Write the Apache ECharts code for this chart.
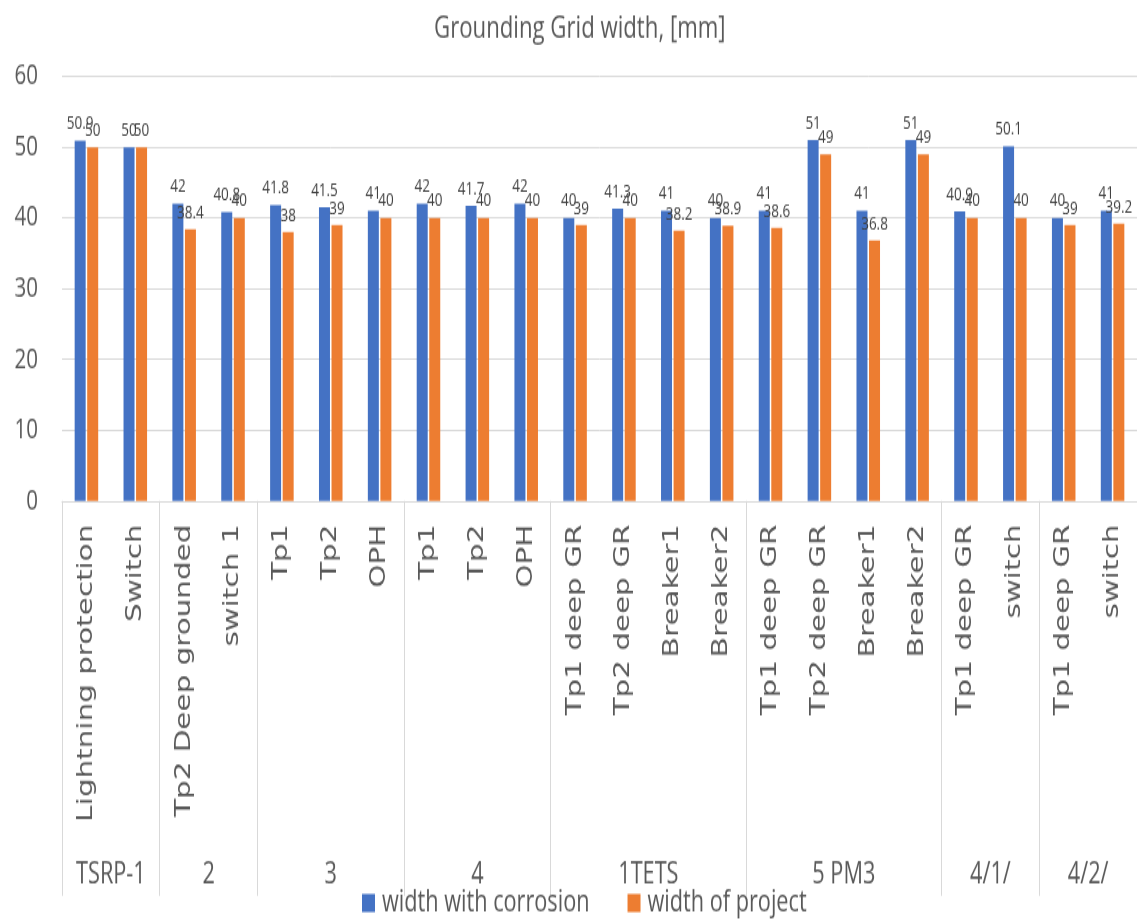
<!DOCTYPE html>
<html>
<head>
<meta charset="utf-8">
<script src="https://cdn.jsdelivr.net/npm/echarts@6/dist/echarts.min.js"></script>
<style>
  html, body { margin: 0; padding: 0; background: #ffffff; overflow: hidden; }
  #chart { position: absolute; left: 0; top: 0; width: 1137px; transform-origin: 0 0; }
</style>
</head>
<body>
<div id="chart"></div>
<script>
// Grounding grid widths per measurement point, grouped by object.
const categories = [
  'Lightning protection', 'Switch',
  'Tp2 Deep grounded', 'switch 1',
  'Tp1', 'Tp2', 'OPH',
  'Tp1', 'Tp2', 'OPH',
  'Tp1 deep GR', 'Tp2 deep GR', 'Breaker1', 'Breaker2',
  'Tp1 deep GR', 'Tp2 deep GR', 'Breaker1', 'Breaker2',
  'Tp1 deep GR', 'switch',
  'Tp1 deep GR', 'switch'
];
const groupNames = ['TSRP-1', '2', '3', '4', '1TETS', '5 PM3', '4/1/', '4/2/'];
const groupSizes = [2, 2, 3, 3, 4, 4, 2, 2];

const widthWithCorrosion = [50.9, 50, 42, 40.8, 41.8, 41.5, 41, 42, 41.7, 42, 40, 41.3, 41, 40, 41, 51, 41, 51, 40.9, 50.1, 40, 41];
const widthOfProject     = [50, 50, 38.4, 40, 38, 39, 40, 40, 40, 40, 39, 40, 38.2, 38.9, 38.6, 49, 36.8, 49, 40, 40, 39, 39.2];

const yTicks = [0, 10, 20, 30, 40, 50, 60];

// The drawing is laid out on a squat canvas and stretched vertically.
const STRETCH = 1.4;
const W = 1137, H = 920 / STRETCH;
const el = document.getElementById('chart');
el.style.height = H + 'px';
el.style.transform = 'scaleY(' + STRETCH + ')';

// Group boundaries and centres on a 0..N scale along the category axis.
const bounds = [0];
groupSizes.forEach(s => bounds.push(bounds[bounds.length - 1] + s));
const centres = groupSizes.map((s, i) => bounds[i] + s / 2);

const gridTop = 54.6, gridBottomY = 357.9, groupLineY = 640;
const sans = '"Open Sans", sans-serif';
const grey = '#595959', lineGrey = '#d9d9d9';

const chart = echarts.init(el, null, { renderer: 'canvas' });
chart.setOption({
  animation: false,
  backgroundColor: '#ffffff',
  title: {
    text: 'Grounding Grid width, [mm]',
    left: 429, top: 5,
    textStyle: { fontFamily: sans, fontSize: 22.2, fontWeight: 'normal', color: grey }
  },
  legend: {
    left: 357, top: 629,
    icon: 'rect', itemWidth: 13, itemHeight: 13, itemGap: 38,
    textStyle: { fontFamily: sans, fontSize: 21.7, color: grey, padding: [0, 0, 0, 2] },
    data: ['width with corrosion', 'width of project']
  },
  grid: {
    left: 62, right: 0, top: gridTop, bottom: H - gridBottomY,
    containLabel: false, outerBoundsMode: 'none'
  },
  xAxis: [
    {
      type: 'category',
      data: categories,
      boundaryGap: true,
      axisLine: { show: true, lineStyle: { color: lineGrey, width: 1 } },
      axisTick: { show: false },
      axisLabel: {
        interval: 0, rotate: 90, margin: 17,
        fontFamily: '"DejaVu Sans", sans-serif', fontSize: 21, color: grey
      }
    },
    {
      // second level: object groups with separators running up to the axis
      type: 'value',
      gridIndex: 0,
      position: 'bottom',
      offset: groupLineY - gridBottomY,
      min: 0, max: categories.length,
      axisLine: { show: false },
      splitLine: { show: false },
      axisTick: {
        show: true, inside: true, length: groupLineY - gridBottomY,
        customValues: bounds,
        lineStyle: { color: lineGrey, width: 1 }
      },
      axisLabel: {
        show: true, inside: true, margin: 4,
        customValues: centres,
        formatter: function (v) {
          const i = centres.findIndex(c => Math.abs(c - v) < 1e-6);
          return i >= 0 ? groupNames[i] : '';
        },
        fontFamily: sans, fontSize: 21.7, color: grey
      }
    }
  ],
  yAxis: {
    type: 'value',
    min: yTicks[0], max: yTicks[yTicks.length - 1], interval: 10,
    axisLine: { show: false },
    axisTick: { show: false },
    splitLine: { lineStyle: { color: lineGrey, width: 1 } },
    axisLabel: { margin: 24, fontFamily: sans, fontSize: 20.5, color: grey }
  },
  series: [
    {
      name: 'width with corrosion',
      type: 'bar',
      xAxisIndex: 0,
      data: widthWithCorrosion,
      barWidth: 11,
      barGap: '14%',
      itemStyle: { color: '#4472C4' },
      label: { show: true, position: 'top', distance: 5, fontFamily: sans, fontSize: 13.5, color: '#404040' }
    },
    {
      name: 'width of project',
      type: 'bar',
      xAxisIndex: 0,
      data: widthOfProject,
      barWidth: 11,
      barGap: '14%',
      itemStyle: { color: '#ED7D31' },
      label: { show: true, position: 'top', distance: 5, fontFamily: sans, fontSize: 13.5, color: '#404040' }
    }
  ]
});
</script>
</body>
</html>
